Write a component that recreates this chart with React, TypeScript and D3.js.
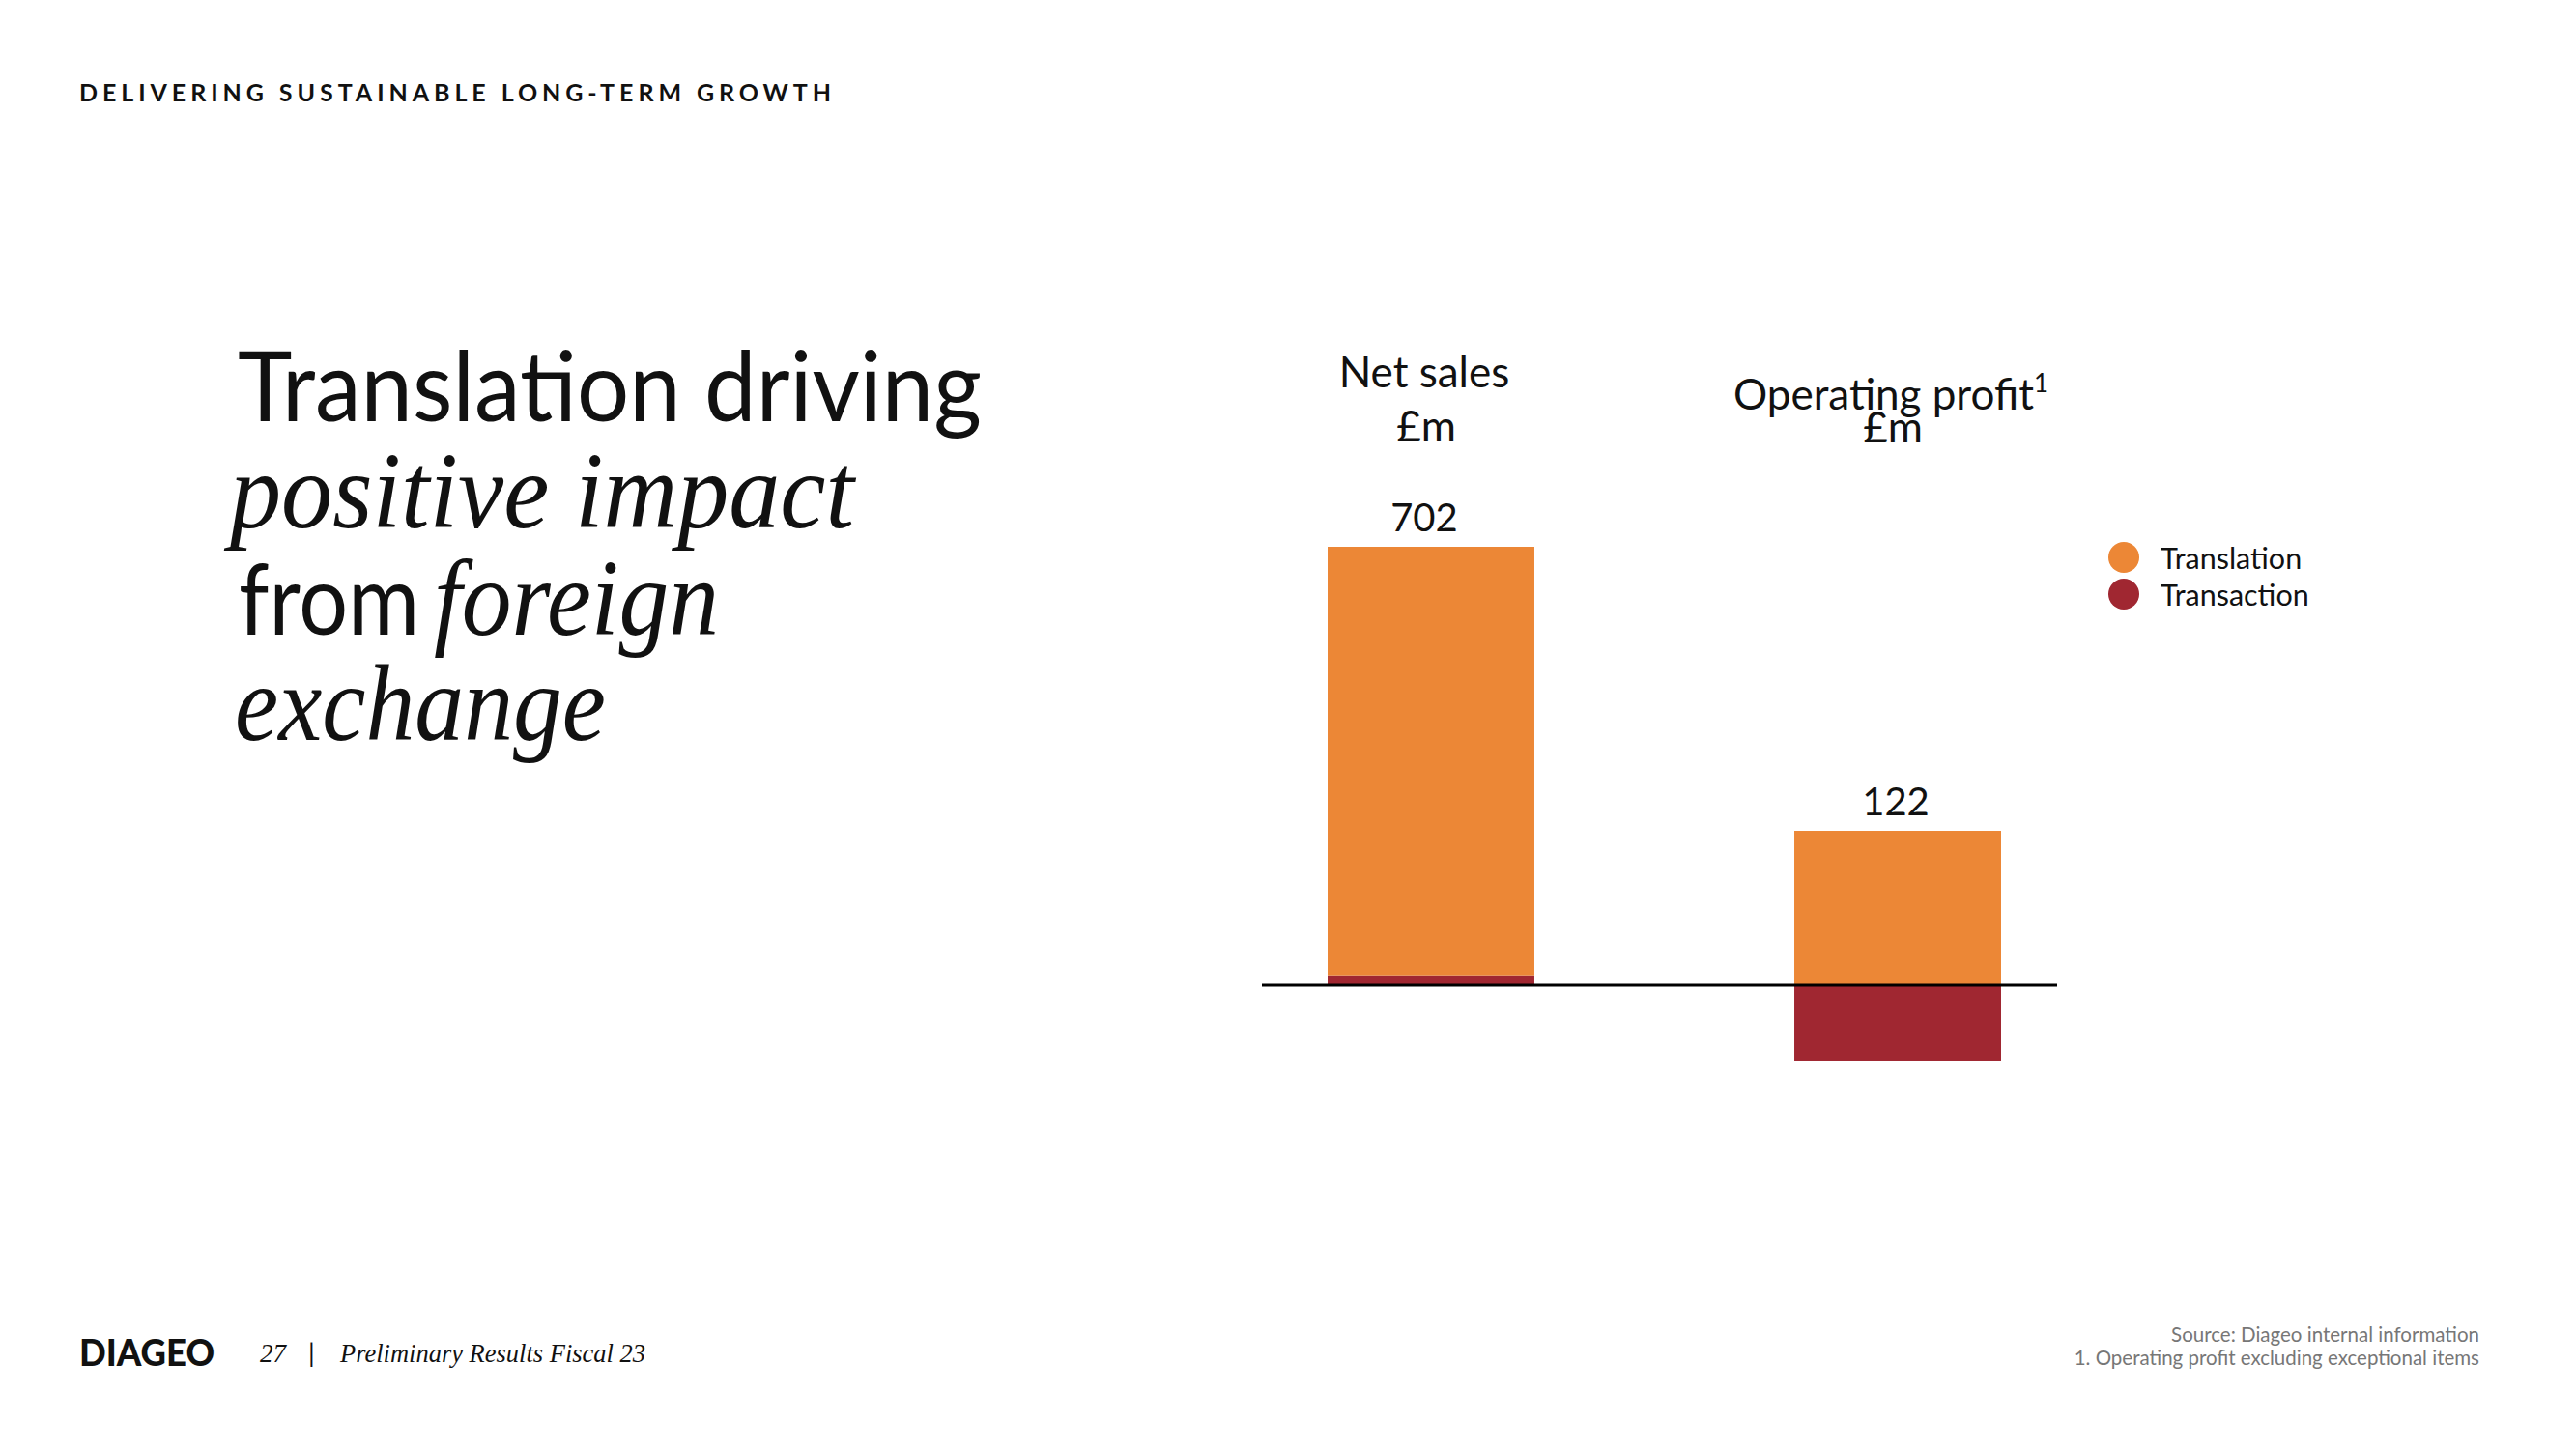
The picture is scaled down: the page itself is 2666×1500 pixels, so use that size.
import React from "react";
import * as d3 from "d3";

const categories = ["Net sales", "Operating profit"];
const units = ["£m", "£m"];
const translation = [686, 238];
const transaction = [16, -116];
const seriesNames = ["Translation", "Transaction"];
const seriesColors = ["#EC8736", "#A02731"];
const headerText = "DELIVERING SUSTAINABLE LONG-TERM GROWTH";
const sourceLines = ["Source: Diageo internal information", "1. Operating profit excluding exceptional items"];

const W = 2666;
const H = 1500;
const SANS = "Lato, 'Noto Sans', sans-serif";
const SERIF = "'Liberation Serif', 'DejaVu Serif', serif";

export default function App() {
  const x = d3.scaleBand<string>().domain(categories).range([1374, 2071]).paddingInner(0.557).paddingOuter(0);
  const baseY = 1020;
  // each panel has its own value scale (separate charts in the original)
  const yScales = [
    d3.scaleLinear().domain([0, translation[0] + transaction[0]]).range([baseY, 566]),
    d3.scaleLinear().domain([0, translation[1]]).range([baseY, 860]),
  ];
  const rows = categories.map((c, i) => ({ cat: c, Transaction: transaction[i], Translation: translation[i] }));
  const stack = d3.stack<any>().keys(["Transaction", "Translation"]).offset(d3.stackOffsetDiverging);
  const layers = stack(rows);
  const colorOf = (k: string) => seriesColors[seriesNames.indexOf(k)];
  const bw = x.bandwidth();

  return (
    <svg width={W} height={H} style={{ display: "block", position: "absolute", left: 0, top: 0, background: "#fff" }}>
      <rect x={0} y={0} width={W} height={H} fill="#fff" />
      <text x={82} y={105} fontFamily={SANS} fontWeight={700} fontSize={25} textLength={778} lengthAdjust="spacing" fill="#111">
        {headerText}
      </text>

      {/* Title */}
      <text x={246} y={436} fontFamily={SANS} fontSize={100} textLength={770} lengthAdjust="spacingAndGlyphs" fill="#111">
        Translation driving
      </text>
      <text x={238} y={546} fontFamily={SERIF} fontStyle="italic" fontSize={112} textLength={646} lengthAdjust="spacingAndGlyphs" fill="#111">
        positive impact
      </text>
      <text x={247} y={657} fontFamily={SANS} fontSize={100} textLength={187} lengthAdjust="spacingAndGlyphs" fill="#111">
        from
      </text>
      <text x={449} y={657} fontFamily={SERIF} fontStyle="italic" fontSize={112} textLength={295} lengthAdjust="spacingAndGlyphs" fill="#111">
        foreign
      </text>
      <text x={243} y={766} fontFamily={SERIF} fontStyle="italic" fontSize={112} textLength={384} lengthAdjust="spacingAndGlyphs" fill="#111">
        exchange
      </text>

      {/* Bars */}
      {layers.map((layer) => (
        <g key={layer.key} fill={colorOf(layer.key)}>
          {layer.map((d, i) => {
            const y = yScales[i];
            const y0 = y(d[0]);
            const y1 = y(d[1]);
            return <rect key={i} x={x(categories[i])} y={Math.min(y0, y1)} width={bw} height={Math.abs(y1 - y0)} />;
          })}
        </g>
      ))}
      <line x1={1306} x2={2129} y1={baseY} y2={baseY} stroke="#000" strokeWidth={3} />

      {/* Category titles and value labels */}
      {categories.map((c, i) => {
        const cx = (x(c) as number) + bw / 2;
        const total = translation[i] + transaction[i];
        const top = yScales[i](Math.max(translation[i] + Math.max(transaction[i], 0), 0));
        const tight = i === 1;
        return (
          <g key={c} fontFamily={SANS} fill="#111" textAnchor="middle">
            <text x={cx - 7} y={tight ? 424 : 401} fontSize={44}>
              {c}
              {tight ? <tspan fontSize={26} dy={-18}>1</tspan> : null}
            </text>
            <text x={cx - 5} y={tight ? 458 : 457} fontSize={44}>{units[i]}</text>
            <text x={cx - (tight ? 2 : 7)} y={top - 16} fontSize={40}>{total}</text>
          </g>
        );
      })}

      {/* Legend */}
      {seriesNames.map((s, i) => (
        <g key={s}>
          <circle cx={2198} cy={577 + i * 38} r={16} fill={seriesColors[i]} />
          <text x={2236} y={589 + i * 38} fontFamily={SANS} fontSize={30.5} fill="#111">{s}</text>
        </g>
      ))}

      {/* Footer */}
      <text x={82} y={1414} fontFamily={SANS} fontWeight={900} fontSize={37} textLength={140} lengthAdjust="spacingAndGlyphs" fill="#111">
        DIAGEO
      </text>
      <text x={269} y={1410} fontFamily={SERIF} fontStyle="italic" fontSize={27} fill="#111">27</text>
      <text x={319} y={1410} fontFamily={SANS} fontSize={27} fill="#111">|</text>
      <text x={352} y={1410} fontFamily={SERIF} fontStyle="italic" fontSize={28} textLength={316} lengthAdjust="spacingAndGlyphs" fill="#111">
        Preliminary Results Fiscal 23
      </text>
      {sourceLines.map((l, i) => (
        <text key={i} x={2566} y={1389 + i * 24} textAnchor="end" fontFamily={SANS} fontSize={20.5} fill="#777">{l}</text>
      ))}
    </svg>
  );
}
